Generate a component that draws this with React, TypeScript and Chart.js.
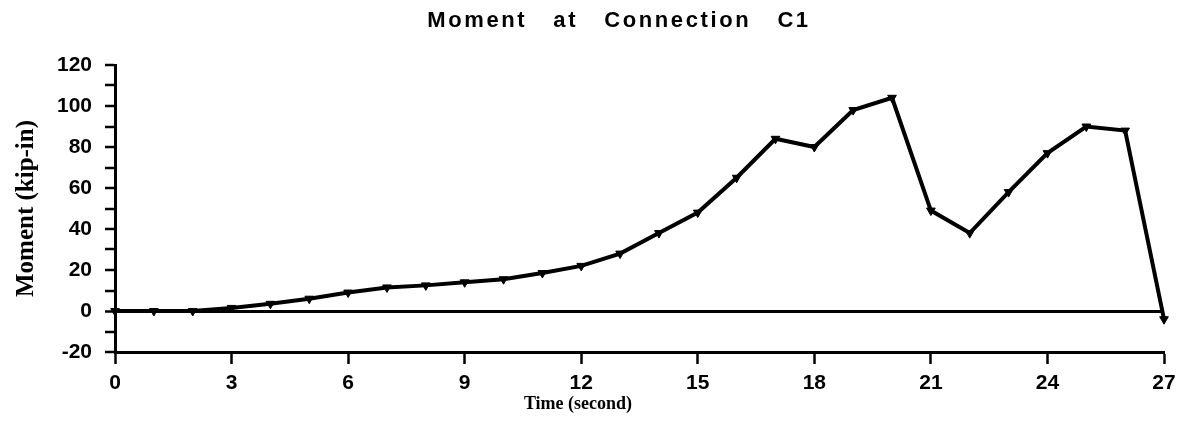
import React, { useEffect, useRef } from 'react';
import { Chart, registerables } from 'chart.js';

Chart.register(...registerables);

const CHART_TITLE = 'Moment   at   Connection   C1';
const X_TITLE = 'Time (second)';
const Y_TITLE = 'Moment (kip-in)';

const times = [0, 1, 2, 3, 4, 5, 6, 7, 8, 9, 10, 11, 12, 13, 14, 15, 16, 17, 18, 19, 20, 21, 22, 23, 24, 25, 26, 27];
const moment = [0, 0, 0, 1.5, 3.5, 6, 9, 11.5, 12.5, 14, 15.5, 18.5, 22, 28, 38, 48, 65, 84, 80, 98, 104, 49, 38, 58, 77, 90, 88, -4];

const xTicks = [0, 3, 6, 9, 12, 15, 18, 21, 24, 27];
const yLabelTicks = [-20, 0, 20, 40, 60, 80, 100, 120];
const yMinorStep = 10;

const captions = {
  id: 'captions',
  afterDraw(chart: any) {
    const { ctx } = chart;
    ctx.save();
    ctx.fillStyle = '#000';
    ctx.textAlign = 'center';
    ctx.textBaseline = 'middle';
    ctx.font = 'bold 22px "Liberation Sans", Arial, sans-serif';
    (ctx as any).letterSpacing = '2.6px';
    ctx.fillText(CHART_TITLE, 619, 21);
    (ctx as any).letterSpacing = '0px';
    ctx.font = 'bold 18px "Liberation Serif", "Times New Roman", serif';
    ctx.fillText(X_TITLE, 578, 404);
    ctx.restore();
  },
};

export default function App() {
  const ref = useRef<HTMLCanvasElement | null>(null);
  useEffect(() => {
    if (!ref.current) return;
    Chart.defaults.font.family = '"Liberation Sans", Arial, sans-serif';
    Chart.defaults.color = '#000';
    const chart = new Chart(ref.current, {
      type: 'line',
      data: {
        datasets: [
          {
            data: times.map((t, i) => ({ x: t, y: moment[i] })),
            borderColor: '#000',
            backgroundColor: '#000',
            borderWidth: 4,
            pointStyle: 'triangle',
            pointRotation: 180,
            pointRadius: 5,
            pointBorderWidth: 1,
            tension: 0,
            clip: false as any,
          },
        ],
      },
      options: {
        animation: false,
        responsive: true,
        maintainAspectRatio: false,
        layout: { padding: { top: 65, right: 27, left: 0, bottom: 0 } },
        plugins: {
          legend: { display: false },
          title: { display: false },
          tooltip: { enabled: false },
        },
        scales: {
          x: {
            type: 'linear',
            min: 0,
            max: 27,
            afterFit(scale: any) {
              scale.height = 84;
            },
            afterBuildTicks(scale: any) {
              scale.ticks = xTicks.map((v) => ({ value: v }));
            },
            ticks: {
              font: { size: 21, weight: 'bold' },
              padding: 7,
              maxRotation: 0,
              autoSkip: false,
            },
            grid: {
              drawOnChartArea: false,
              drawTicks: true,
              tickLength: 12,
              tickColor: '#000',
              tickWidth: 2.5,
            },
            border: { display: true, color: '#000', width: 3 },
          },
          y: {
            type: 'linear',
            min: -20,
            max: 120,
            afterFit(scale: any) {
              scale.width = 115;
            },
            ticks: {
              stepSize: yMinorStep,
              autoSkip: false,
              font: { size: 21, weight: 'bold' },
              padding: 13,
              callback: (v: any) => (yLabelTicks.includes(Number(v)) ? String(v) : ''),
            },
            grid: {
              drawOnChartArea: true,
              drawTicks: true,
              tickLength: 10,
              tickColor: '#000',
              tickWidth: 2.5,
              lineWidth: (c: any) => (c.tick && c.tick.value === 0 ? 3 : 0),
              color: (c: any) => (c.tick && c.tick.value === 0 ? '#000' : 'rgba(0,0,0,0)'),
            },
            border: { display: true, color: '#000', width: 3 },
            title: {
              display: true,
              text: Y_TITLE,
              font: { size: 25, weight: 'bold', family: '"Liberation Serif", "Times New Roman", serif' },
              padding: { top: 12, bottom: 0 },
            },
          },
        },
      },
      plugins: [captions],
    });
    return () => chart.destroy();
  }, []);
  return (
    <div style={{ position: 'absolute', left: 0, top: 0, width: 1191, height: 436, background: '#fff' }}>
      <canvas ref={ref} />
    </div>
  );
}
